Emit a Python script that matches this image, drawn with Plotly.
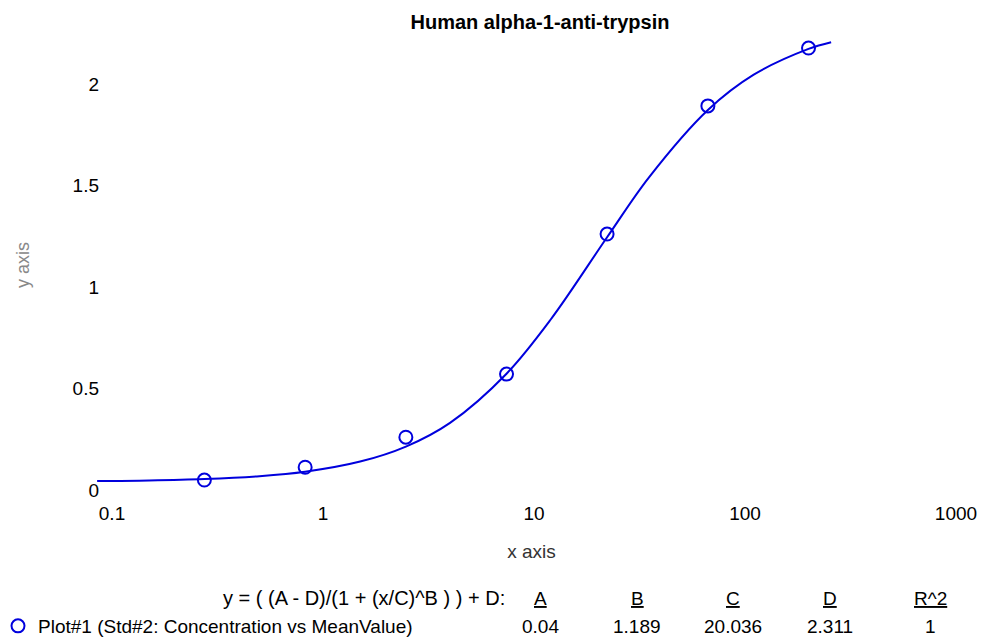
import plotly.graph_objects as go

# ---- data ----
conc = [0.274, 0.823, 2.47, 7.41, 22.2, 66.7, 200]
mean_value = [0.049, 0.112, 0.260, 0.571, 1.261, 1.892, 2.177]

# fitted curve (x, y)
curve_x = [0.085, 0.15, 0.274, 0.5, 0.823, 1.5, 2.47, 4, 7.41, 12, 22.2, 35, 66.7, 110, 200, 256]
curve_y = [0.044, 0.047, 0.054, 0.068, 0.090, 0.140, 0.214, 0.331, 0.573, 0.840, 1.245, 1.539, 1.872, 2.046, 2.173, 2.206]

x_tick_vals = [0.1, 1, 10, 100, 1000]
x_tick_text = ["0.1", "1", "10", "100", "1000"]
y_tick_vals = [0, 0.5, 1, 1.5, 2]
y_tick_text = ["0", "0.5", "1", "1.5", "2"]

fit_headers = ["A", "B", "C", "D", "R^2"]
fit_values = ["0.04", "1.189", "20.036", "2.311", "1"]
fit_formula = "y = ( (A - D)/(1 + (x/C)^B ) ) + D:"
title_text = "Human alpha-1-anti-trypsin"
series_name = "Plot#1 (Std#2: Concentration vs MeanValue)"

# ---- layout geometry (page pixels; body margin removed below) ----
W, H = 981, 637
L, R, T, B = 97, 15, 30, 137
PW, PH = W - L - R, H - T - B
FONT = "Liberation Sans, Arial, sans-serif"
FS = 19
BLUE = "#0000DD"


def px(xp):
    """page x pixel -> paper coordinate"""
    return (xp - L) / PW


def py(yp):
    """page y pixel -> paper coordinate"""
    return (H - B - yp) / PH


fig = go.Figure()
fig.add_trace(go.Scatter(
    x=curve_x, y=curve_y, mode="lines", line=dict(color=BLUE, width=2, shape="spline"),
    showlegend=False, hoverinfo="skip"))
fig.add_trace(go.Scatter(
    x=conc, y=mean_value, mode="markers", name=series_name,
    marker=dict(symbol="circle-open", size=13, color=BLUE, line=dict(width=2, color=BLUE))))

annotations = [dict(x=px(507), y=py(598), xref="paper", yref="paper", text=fit_formula,
                    showarrow=False, xanchor="right", yanchor="middle",
                    font=dict(family=FONT, size=20, color="black"))]
col_x = [540, 637, 733, 830, 930]
for cx, hd, vl in zip(col_x, fit_headers, fit_values):
    annotations.append(dict(x=px(cx), y=py(598), xref="paper", yref="paper", text="<u>" + hd + "</u>",
                            showarrow=False, xanchor="center", yanchor="middle",
                            font=dict(family=FONT, size=FS, color="black")))
    annotations.append(dict(x=px(cx), y=py(626), xref="paper", yref="paper", text=vl,
                            showarrow=False, xanchor="center", yanchor="middle",
                            font=dict(family=FONT, size=FS, color="black")))

fig.update_layout(
    width=W, height=H,
    margin=dict(l=L, r=R, t=T, b=B, pad=0, autoexpand=False),
    paper_bgcolor="white", plot_bgcolor="white",
    font=dict(family=FONT, size=FS, color="black"),
    title=dict(text="<b>" + title_text + "</b>", x=540 / W, xref="container", xanchor="center",
               y=1 - 22 / H, yref="container", yanchor="middle",
               font=dict(family=FONT, size=20, color="black")),
    xaxis=dict(type="log", range=[-1 - 15 / 211, 3 + 10 / 211], tickvals=x_tick_vals, ticktext=x_tick_text,
               showgrid=False, zeroline=False, showline=False, ticks="", ticklabelstandoff=0,
               automargin=False,
               title=dict(text="x axis", font=dict(family=FONT, size=FS, color="#333333"), standoff=21)),
    yaxis=dict(range=[-10 / 203, 470 / 203 - 10 / 203], tickvals=y_tick_vals, ticktext=y_tick_text,
               showgrid=False, zeroline=False, showline=False, ticks="", ticklabelstandoff=-3,
               automargin=False,
               title=dict(text="y axis", font=dict(family=FONT, size=18, color="#888888"), standoff=38)),
    showlegend=True,
    legend=dict(x=px(-2), y=py(626), xanchor="left", yanchor="middle", xref="paper", yref="paper",
                bgcolor="rgba(0,0,0,0)", borderwidth=0, font=dict(family=FONT, size=FS, color="black"),
                itemwidth=30),
    annotations=annotations,
)

fig.write_html(
    "out.html",
    config={"displayModeBar": False},
    post_script="document.body.style.margin='0px';document.body.style.overflow='hidden';",
)
